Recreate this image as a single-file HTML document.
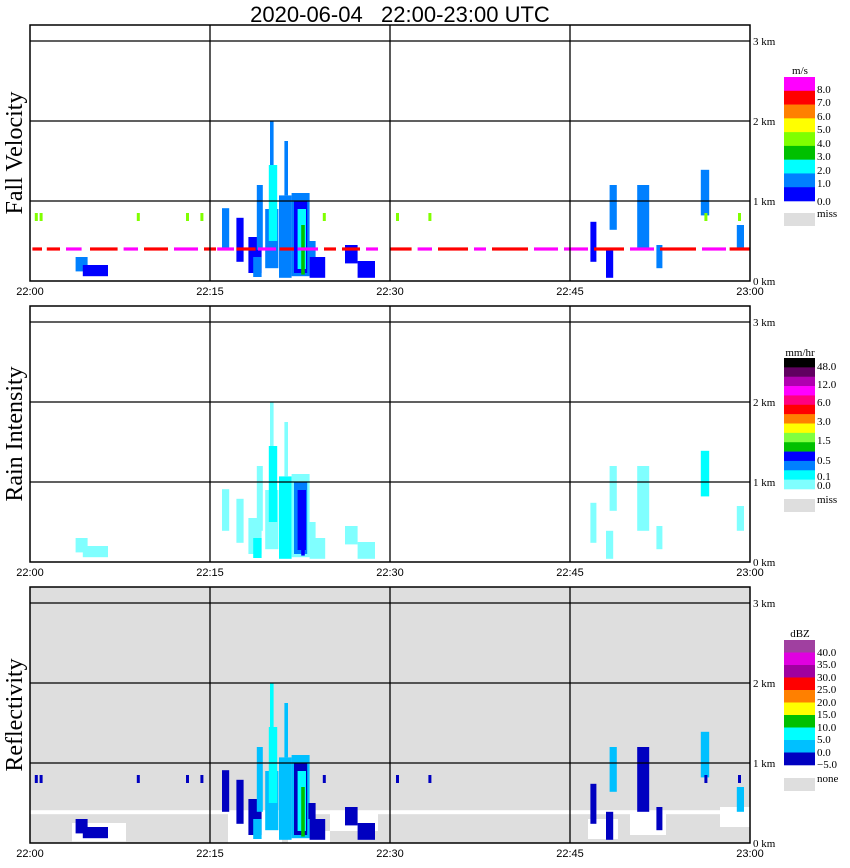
<!DOCTYPE html>
<html><head><meta charset="utf-8"><style>
body{margin:0;background:#fff;width:850px;height:868px;overflow:hidden}
svg{display:block}
.t{font-family:"Liberation Serif",serif;fill:#000}
.s{font-family:"Liberation Sans",sans-serif;fill:#000}
</style></head><body>
<svg id="chart" width="850" height="868" viewBox="0 0 850 868" xmlns="http://www.w3.org/2000/svg"></svg>
<script>
// ---- data (time in minutes after 22:00, height in km) ----
const timeTicks = [0, 15, 30, 45, 60];
const timeLabels = ["22:00", "22:15", "22:30", "22:45", "23:00"];
const heightTicks = [0, 1, 2, 3];
const heightLabels = ["0 km", "1 km", "2 km", "3 km"];
const panelTitles = ["Fall Velocity", "Rain Intensity", "Reflectivity"];
// echo blocks: [t0, t1, h0, h1, velocityLevel, rainLevel, reflLevel]
const echoBlocks = [
  [3.8,4.8,0.12,0.30,1,0,0],[4.4,6.5,0.06,0.2,0,0,0],
  [16.0,16.6,0.39,0.91,1,0,0],[17.2,17.8,0.24,0.79,0,0,0],
  [18.2,19.3,0.1,0.55,0,0,0],[18.6,19.3,0.05,0.3,1,1,1],[18.9,19.4,0.39,1.2,1,0,1],
  [19.6,20.7,0.16,0.9,1,0,1],[19.9,20.6,0.5,1.45,2,1,2],[20.0,20.3,1.45,2.0,1,0,2],
  [20.75,21.8,0.04,1.07,1,1,1],[21.2,21.5,1.07,1.75,1,0,1],
  [21.8,23.3,0.06,1.1,1,0,1],[22.0,23.1,0.1,1.0,0,2,0],[22.3,23.0,0.15,0.9,2,3,2],
  [22.6,22.9,0.08,0.7,3,3,3],[23.3,24.6,0.04,0.3,0,0,0],[23.2,23.8,0.3,0.5,1,0,0],
  [26.25,27.3,0.22,0.45,0,0,0],[27.3,28.75,0.04,0.25,0,0,0],
  [46.7,47.2,0.24,0.74,0,0,0],[48.3,48.9,0.64,1.2,1,0,1],
  [48.0,48.6,0.04,0.39,0,0,0],[50.6,51.6,0.39,1.2,1,0,0],
  [52.2,52.7,0.16,0.45,1,0,0],[55.9,56.6,0.82,1.39,1,1,1],
  [58.9,59.5,0.39,0.7,1,0,1]
];
// isolated small echoes at ~0.8 km: time values
const clutterTimes = [0.4, 0.8, 8.9, 13.0, 14.2, 24.4, 30.5, 33.2, 56.2, 59.0];
// fall-velocity artefact line near 0.4 km: [t0, t1, level]
const vLineSegs = [[0.2,1.0,7],[1.4,2.5,7],[3.0,4.3,8],[5.0,7.3,7],[7.8,9.0,8],[9.5,11.5,7],[12.0,14.0,8],[14.5,15.5,7],[15.6,17.0,8],[17.2,18.8,7],[19.0,20.5,8],[20.8,22.0,7],[22.3,24.0,8],[24.5,25.5,7],[26.0,27.5,7],[28.0,29.0,8],[30.0,31.8,7],[32.3,33.5,8],[34.0,36.5,7],[37.0,38.0,8],[38.5,41.5,7],[42.0,44.0,8],[44.5,46.5,8],[47.0,49.5,7],[50.0,52.0,8],[52.5,55.5,7],[56.0,58.0,8],[58.3,60.0,7]];
// missing-data (white) areas in reflectivity: [t0, t1, h0, h1]
const reflGaps = [[0,60,0.36,0.41],[3.5,8.0,0.02,0.25],[16.5,21.0,0.0,0.4],[21.5,25.0,0.0,0.15],[25.0,29.0,0.15,0.4],[46.5,49.0,0.05,0.3],[50.0,53.0,0.1,0.4],[57.5,60,0.2,0.45]];
const velColors = ["#0000ff","#0080ff","#00ffff","#00c000","#80ff00","#ffff00","#ff8000","#ff0000","#ff00ff"];
const velLabels = ["8.0","7.0","6.0","5.0","4.0","3.0","2.0","1.0","0.0"];
const rainColors = ["#80ffff","#00ffff","#0080ff","#0000ff","#00c000","#80ff40","#ffff00","#ff8000","#ff0000","#ff0080","#ff00ff","#b000b0","#600060","#000000"];
const rainLabels = ["48.0","12.0","6.0","3.0","1.5","0.5","0.1","0.0"];
const reflColors = ["#0000c0","#00c0ff","#00ffff","#00c000","#ffff00","#ff8000","#ff0000","#a000a0","#e000e0","#a040a0"];
const reflLabels = ["40.0","35.0","30.0","25.0","20.0","15.0","10.0","5.0","0.0","\u22125.0"];

const NS="http://www.w3.org/2000/svg";
const svg=document.getElementById('chart');
function mk(tag,attrs,parent){const e=document.createElementNS(NS,tag);for(const k in attrs)e.setAttribute(k,attrs[k]);(parent||svg).appendChild(e);return e;}
const X0=30,X1=750;
const xs=t=>X0+t*(X1-X0)/60;
const tops=[25,306,587];
function ys(p,h){return tops[p]+256-h*80;}

let title=mk('text',{x:400,y:22,'text-anchor':'middle','font-size':22,class:'s',style:'white-space:pre'});
title.textContent="2020-06-04   22:00-23:00 UTC";



function rect(p,t0,t1,h0,h1,fill,g){
  return mk('rect',{x:xs(t0),y:ys(p,h1),width:xs(t1)-xs(t0),height:ys(p,h0)-ys(p,h1),fill:fill},g);
}
for(let p=0;p<3;p++){
  const g=mk('g',{});
  
  
  const T=tops[p],B=T+256;
  mk('rect',{x:X0,y:T,width:X1-X0,height:256,fill:p==2?'#dedede':'#fff'},g);
  if(p==2){for(const w of reflGaps){const r=rect(p,w[0],w[1],w[2],w[3],'#fff',g);
    
    }}
  for(const b of echoBlocks){
    const lv=b[4+p]; if(lv<0)continue;
    const col=[velColors,rainColors,reflColors][p][lv];
    const r=rect(p,b[0],b[1],b[2],b[3],col,g);
    
    
  }
  if(p!=1){for(const t of clutterTimes){const r=rect(p,t,t+0.25,0.75,0.85,p==0?'#80ff00':'#0000c0',g);
    
    }}
  if(p==0){for(const s of vLineSegs){const r=rect(p,s[0],s[1],0.38,0.42,velColors[s[2]],g);
    
    }}
  for(const h of heightTicks.slice(1)){mk('line',{x1:X0,x2:X1,y1:ys(p,h),y2:ys(p,h),stroke:'#000','stroke-width':1.3},g);}
  for(const t of timeTicks.slice(1,4)){mk('line',{x1:xs(t),x2:xs(t),y1:T,y2:B,stroke:'#000','stroke-width':1.3},g);}
  mk('rect',{x:X0,y:T,width:X1-X0,height:256,fill:'none',stroke:'#000','stroke-width':1.5},g);
  heightTicks.forEach((h,i)=>{const tx=mk('text',{x:753,y:ys(p,h)+4,'font-size':11,class:'t'},g);tx.textContent=heightLabels[i];
    
    });
  timeTicks.forEach((t,i)=>{const tx=mk('text',{x:xs(t),y:B+14,'text-anchor':'middle','font-size':11,class:'s'},g);tx.textContent=timeLabels[i];
    
    });
  const yt=mk('text',{x:0,y:0,'text-anchor':'middle','font-size':24,class:'t',transform:`translate(22,${T+128}) rotate(-90)`},g);
  yt.textContent=panelTitles[p];
  
  
}
function legend(cols,labels,top,bottom,unit,unitY,missY,missLbl,labelYs,name){
  const g=mk('g',{});
  
  
  const n=cols.length,hh=(bottom-top)/n;
  for(let i=0;i<n;i++){mk('rect',{x:784,y:top+i*hh,width:31,height:hh+0.3,fill:cols[n-1-i]},g);}
  const u=mk('text',{x:800,y:unitY,'text-anchor':'middle','font-size':11,class:'t'},g);u.textContent=unit;
  labels.forEach((l,i)=>{const tx=mk('text',{x:817,y:labelYs[i],'font-size':11,class:'t'},g);tx.textContent=l;});
  mk('rect',{x:784,y:missY,width:31,height:13,fill:'#dedede'},g);
  const m=mk('text',{x:817,y:missY+4,'font-size':11,class:'t'},g);m.textContent=missLbl;
}
legend(velColors,velLabels,77,201,'m/s',74,213,'miss',[93,106,120,133,147,160,174,187,205]);
legend(rainColors,rainLabels,358,489,'mm/hr',356,499,'miss',[370,388,406,425,444,464,480,489]);
legend(reflColors,reflLabels,640,765,'dBZ',637,778,'none',[656,668,681,693,706,718,731,743,756,768]);
</script>
</body></html>
